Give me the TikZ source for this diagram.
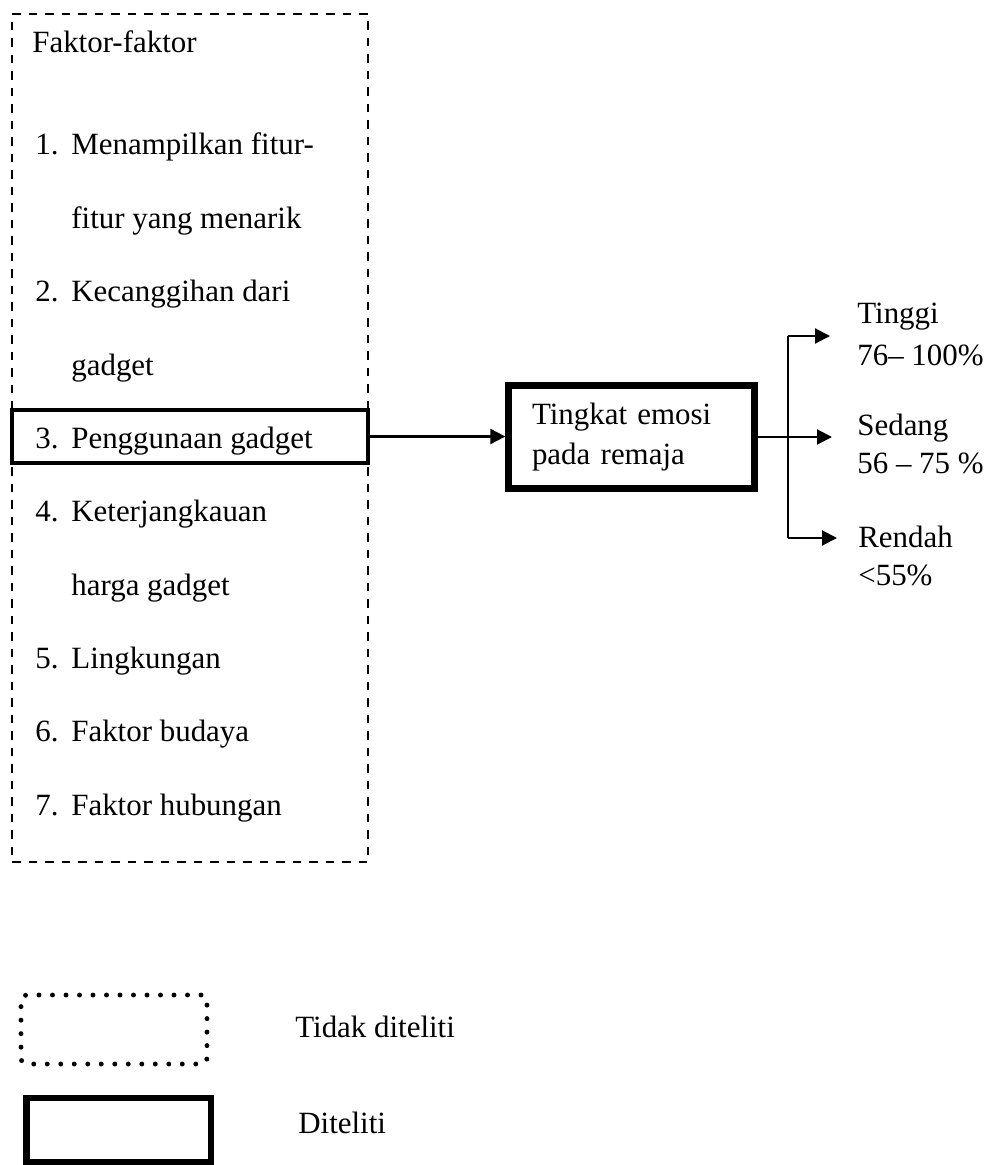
\documentclass[tikz,border=0pt]{standalone}
\usepackage{fontspec}
\setmainfont{Liberation Serif}
\usetikzlibrary{arrows.meta,positioning,calc}
\tikzset{
  arrow/.style={-{Triangle[length=3mm,width=3mm]}, line width=1.2pt},
  plainline/.style={line width=1.2pt},
  dashbox/.style={draw=black, line width=1.3pt, dash pattern=on 0.17cm off 0.16cm, inner sep=0pt},
  dotbox/.style={draw=black, line width=2.8pt, dash pattern=on 0pt off 0.27cm, line cap=round, rounded corners=0.12cm, inner sep=0pt},
  studied/.style={draw=black, line width=1.8pt, inner sep=0pt},
  thickbox/.style={draw=black, line width=3.6pt, inner sep=0pt},
  txt/.style={anchor=base west, inner sep=0pt}
}

\begin{document}
\begin{tikzpicture}[font=\fontsize{17.6}{22.8}\selectfont]
\useasboundingbox (0,0) rectangle (19.78,-23.30);
% factors (not studied)
\node[dashbox, minimum width=7.12cm, minimum height=16.96cm] (factors) at (3.80,-8.76) {};
\node[txt] (title) at (0.64,-1.06) {Faktor-faktor};
\foreach \k/\num/\txt in {0/1./Menampilkan fitur-, 1//fitur yang menarik, 2/2./Kecanggihan dari,
  3//gadget, 4/3./Penggunaan gadget, 5/4./Keterjangkauan, 6//harga gadget,
  7/5./Lingkungan, 8/6./Faktor budaya, 9/7./Faktor hubungan}{
  \node[txt] (num\k) at (0.70,{-3.10-1.4667*\k}) {\num};
  \node[txt] (item\k) at (1.42,{-3.10-1.4667*\k}) {\txt};
}
% the studied factor
\node[studied, minimum width=7.12cm, minimum height=1.06cm] (usage) at (3.80,-8.73) {};
% outcome
\node[thickbox, minimum width=4.92cm, minimum height=2.06cm, text width=3.98cm, align=left] (emosi) at (12.63,-8.74) {Tingkat emosi\\pada remaja};
\draw[arrow] (usage.east) -- (usage.east -| emosi.west);
% fork to categories
\coordinate (forktop) at (15.76,-6.72);
\coordinate (forkbot) at (15.76,-10.76);
\coordinate (tiphi) at (16.60,-6.72);
\coordinate (tipmid) at (16.64,-8.74);
\coordinate (tiplo) at (16.74,-10.76);
\draw[plainline] (forktop) -- (forkbot);
\draw[arrow] (forktop) -- (tiphi);
\draw[arrow] (emosi.east) -- (tipmid);
\draw[arrow] (forkbot) -- (tiplo);
\node[txt] (tinggi) at (17.14,-6.46) {Tinggi};
\node[txt] (tinggival) at (17.14,-7.30) {76– 100\%};
\node[txt] (sedang) at (17.14,-8.70) {Sedang};
\node[txt] (sedangval) at (17.14,-9.46) {56 – 75 \%};
\node[txt] (rendah) at (17.16,-10.94) {Rendah};
\node[txt] (rendahval) at (17.16,-11.70) {<55\%};
% legend
\node[dotbox, minimum width=3.72cm, minimum height=1.38cm] (legdot) at (2.28,-20.59) {};
\node[txt] (legdottxt) at (5.90,-20.74) {Tidak diteliti};
\node[thickbox, minimum width=3.69cm, minimum height=1.28cm] (legsolid) at (2.375,-22.60) {};
\node[txt] (legsolidtxt) at (5.96,-22.66) {Diteliti};
\end{tikzpicture}
\end{document}
